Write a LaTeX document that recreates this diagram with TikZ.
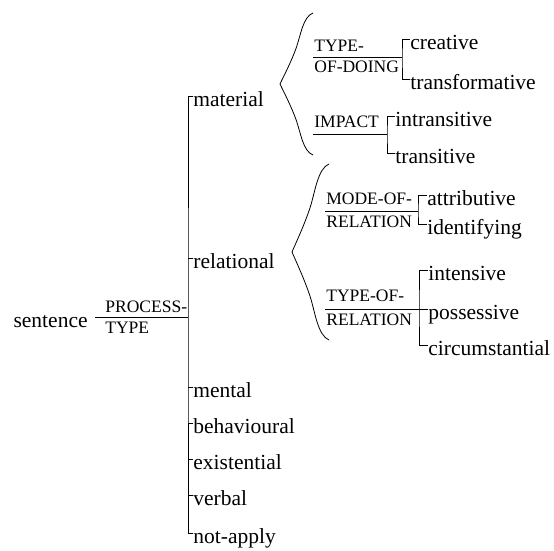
\documentclass[tikz,border=0pt]{standalone}
\usepackage{fontspec}
\setmainfont{Liberation Serif}
\usetikzlibrary{positioning}

\newcommand{\wavybrace}[3]{%
  \draw [shift={(#1)}, xscale=#2, yscale=#3]
  (1,-1) .. controls (0.7,-0.95) and (0.62,-0.68) .. (0.5,-0.52)
  .. controls (0.35,-0.32) and (0.08,-0.08) .. (0,0)
  .. controls (0.08,0.08) and (0.35,0.32) .. (0.5,0.52)
  .. controls (0.62,0.68) and (0.7,0.95) .. (1,1);}

\begin{document}
\begin{tikzpicture}[
    x=1pt, y=-1pt,
    line width=0.8pt,
    item/.style={font=\fontsize{21.5}{24}\selectfont, inner sep=0pt,
      text height=9.6pt, text depth=0pt, anchor=north west},
    tag/.style={font=\fontsize{17.5}{20}\selectfont, inner sep=0pt,
      text height=11.6pt, text depth=0pt}]

    \useasboundingbox (0,0) rectangle (554,551);

    \coordinate (ptl) at (95,317);
    \coordinate (pt) at (188,317);
    \node [item, anchor=north east] (sentence) at (88,317) {sentence};
    \node [tag, above right=4pt and 10pt of ptl] (ptA) {PROCESS-};
    \node [tag, below right=4pt and 10pt of ptl] (ptB) {TYPE};
    \draw (ptl) -- (pt);

    \node [item] (material) at (193,96) {material};
    \node [item] (relational) at (193,258) {relational};
    \node [item] (mental) at (193,387) {mental};
    \node [item] (behavioural) at (193,423) {behavioural};
    \node [item] (existential) at (193,459) {existential};
    \node [item] (verbal) at (193,495) {verbal};
    \node [item] (notapply) at (193,533) {not-apply};
    \draw (material.north west) -| (pt) |- (notapply.north west);
    \foreach \n in {relational, mental, behavioural, existential, verbal}
    \draw (\n.north west) -- (\n.north west -| pt);

    \coordinate (matb) at (280,84);
    \wavybrace{matb}{33}{71}
    \coordinate (relb) at (292,252);
    \wavybrace{relb}{37}{88}

    \coordinate (tdl) at (313,57);
    \coordinate (tdj) at (402,57);
    \node [tag, above right=5pt and 1pt of tdl] (tdA) {TYPE-};
    \node [tag, below right=4pt and 1pt of tdl] (tdB) {OF-DOING};
    \node [item] (creative) at (410,39) {creative};
    \node [item] (transformative) at (410,79) {transformative};
    \draw (tdl) -- (tdj);
    \draw (creative.north west) -| (tdj) |- (transformative.north west);

    \coordinate (iml) at (313,134);
    \coordinate (imj) at (387,134);
    \node [tag, above right=6pt and 1pt of iml] (imA) {IMPACT};
    \node [item] (intransitive) at (395,116) {intransitive};
    \node [item] (transitive) at (395,153) {transitive};
    \draw (iml) -- (imj);
    \draw (intransitive.north west) -| (imj) |- (transitive.north west);

    \coordinate (mrl) at (325,211);
    \coordinate (mrj) at (418,211);
    \node [tag, above right=6pt and 1pt of mrl] (mrA) {MODE-OF-};
    \node [tag, below right=4pt and 1pt of mrl] (mrB) {RELATION};
    \node [item] (attributive) at (427,195) {attributive};
    \node [item] (identifying) at (427,224) {identifying};
    \draw (mrl) -- (mrj);
    \draw (attributive.north west) -| (mrj) |- (identifying.north west);

    \coordinate (trl) at (325,309);
    \coordinate (trj) at (419,309);
    \node [tag, above right=7pt and 1pt of trl] (trA) {TYPE-OF-};
    \node [tag, below right=4pt and 1pt of trl] (trB) {RELATION};
    \node [item] (intensive) at (428,270) {intensive};
    \node [item] (possessive) at (428,309) {possessive};
    \node [item] (circumstantial) at (428,345) {circumstantial};
    \draw (intensive.north west) -| (trj) |- (circumstantial.north west);
    \draw (trl) -- (possessive.north west);

  \end{tikzpicture}
\end{document}
